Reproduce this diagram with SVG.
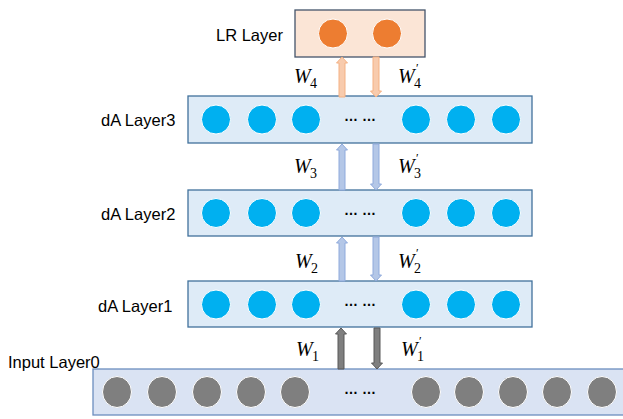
<svg xmlns="http://www.w3.org/2000/svg" width="623" height="419" viewBox="0 0 623 419">
<style>
.lbl{font-family:"Liberation Sans",Arial,sans-serif;font-size:16.5px;fill:#000}
.w{font-family:"Liberation Serif","Times New Roman",serif;font-style:italic;font-size:20px;fill:#000}
.sub{font-family:"Liberation Serif","Times New Roman",serif;font-size:14px;fill:#000}
.pr{font-family:"Liberation Serif","Times New Roman",serif;font-size:12px;fill:#000}
.da{fill:#DEEBF7;stroke:#41719C;stroke-width:1.3}
.lr{fill:#FBE5D6;stroke:#44546A;stroke-width:1.3}
.inp{fill:#DAE3F3;stroke:#6C8EBF;stroke-width:1.3}
.bc{fill:#00B0F0;stroke:#fff;stroke-width:1}
.oc{fill:#ED7D31;stroke:#fff;stroke-width:1}
.gc{fill:#7F7F7F;stroke:#fff;stroke-width:1}
.dots{font-family:"Liberation Sans",Arial,sans-serif;font-size:14px;font-weight:bold;fill:#000}
.ao{fill:#F8CBAD;stroke:#F4B183;stroke-width:1}
.ab{fill:#B4C7E7;stroke:#8FAADC;stroke-width:1}
.ag{fill:#7F7F7F;stroke:#595959;stroke-width:1}
</style>
<g id="lr-layer">
<rect class="lr" x="295" y="10" width="130" height="47"/>
<circle class="oc" cx="333" cy="33.5" r="14.5"/>
<circle class="oc" cx="387" cy="33.5" r="14.5"/>
<text class="lbl" x="216" y="41">LR Layer</text>
</g>
<g id="da-layer3">
<rect class="da" x="188" y="96" width="344" height="47"/>
<circle class="bc" cx="216" cy="119.5" r="14.5"/>
<circle class="bc" cx="262" cy="119.5" r="14.5"/>
<circle class="bc" cx="306" cy="119.5" r="14.5"/>
<circle class="bc" cx="416" cy="119.5" r="14.5"/>
<circle class="bc" cx="461" cy="119.5" r="14.5"/>
<circle class="bc" cx="506" cy="119.5" r="14.5"/>
<text class="dots" x="360" y="121" text-anchor="middle">… …</text>
<text class="lbl" x="101" y="126">dA Layer3</text>
</g>
<g id="da-layer2">
<rect class="da" x="188" y="190" width="344" height="46"/>
<circle class="bc" cx="216" cy="213" r="14.5"/>
<circle class="bc" cx="262" cy="213" r="14.5"/>
<circle class="bc" cx="306" cy="213" r="14.5"/>
<circle class="bc" cx="416" cy="213" r="14.5"/>
<circle class="bc" cx="461" cy="213" r="14.5"/>
<circle class="bc" cx="506" cy="213" r="14.5"/>
<text class="dots" x="360" y="215" text-anchor="middle">… …</text>
<text class="lbl" x="101" y="220">dA Layer2</text>
</g>
<g id="da-layer1">
<rect class="da" x="188" y="281" width="344" height="46"/>
<circle class="bc" cx="216" cy="304.5" r="14.5"/>
<circle class="bc" cx="262" cy="304.5" r="14.5"/>
<circle class="bc" cx="306" cy="304.5" r="14.5"/>
<circle class="bc" cx="416" cy="304.5" r="14.5"/>
<circle class="bc" cx="461" cy="304.5" r="14.5"/>
<circle class="bc" cx="506" cy="304.5" r="14.5"/>
<text class="dots" x="360" y="306" text-anchor="middle">… …</text>
<text class="lbl" x="98" y="312">dA Layer1</text>
</g>
<g id="input-layer0">
<rect class="inp" x="93" y="369" width="540" height="46"/>
<ellipse class="gc" cx="117" cy="392" rx="14.5" ry="15.5"/>
<ellipse class="gc" cx="162" cy="392" rx="14.5" ry="15.5"/>
<ellipse class="gc" cx="207" cy="392" rx="14.5" ry="15.5"/>
<ellipse class="gc" cx="251" cy="392" rx="14.5" ry="15.5"/>
<ellipse class="gc" cx="295" cy="392" rx="14.5" ry="15.5"/>
<ellipse class="gc" cx="426" cy="392" rx="14.5" ry="15.5"/>
<ellipse class="gc" cx="469" cy="392" rx="14.5" ry="15.5"/>
<ellipse class="gc" cx="513" cy="392" rx="14.5" ry="15.5"/>
<ellipse class="gc" cx="557" cy="392" rx="14.5" ry="15.5"/>
<ellipse class="gc" cx="602" cy="392" rx="14.5" ry="15.5"/>
<text class="dots" x="360" y="394" text-anchor="middle">… …</text>
<text class="lbl" x="8" y="368">Input Layer0</text>
</g>
<g id="connectors">
<path class="ao" d="M339,97 L339,63 L336.5,63 L342,57 L347.5,63 L345,63 L345,97 Z"/>
<path class="ao" d="M373,57 L373,91 L370.5,91 L376,97 L381.5,91 L379,91 L379,57 Z"/>
<path class="ab" d="M339,190 L339,150 L336.5,150 L342,144 L347.5,150 L345,150 L345,190 Z"/>
<path class="ab" d="M373,144 L373,184 L370.5,184 L376,190 L381.5,184 L379,184 L379,144 Z"/>
<path class="ab" d="M339,281 L339,243 L336.5,243 L342,237 L347.5,243 L345,243 L345,281 Z"/>
<path class="ab" d="M373,237 L373,275 L370.5,275 L376,281 L381.5,275 L379,275 L379,237 Z"/>
<path class="ag" d="M338,369 L338,334 L335.5,334 L341,328 L346.5,334 L344,334 L344,369 Z"/>
<path class="ag" d="M374,328 L374,363 L371.5,363 L377,369 L382.5,363 L380,363 L380,328 Z"/>
</g>
<g id="weights">
<text class="w" x="294" y="83">W</text><text class="sub" x="310" y="88">4</text>
<text class="w" x="398" y="83">W</text><text class="pr" x="416" y="72">′</text><text class="sub" x="414" y="88">4</text>
<text class="w" x="294" y="173">W</text><text class="sub" x="310" y="178">3</text>
<text class="w" x="398" y="173">W</text><text class="pr" x="416" y="162">′</text><text class="sub" x="414" y="178">3</text>
<text class="w" x="295" y="268">W</text><text class="sub" x="311" y="273">2</text>
<text class="w" x="398" y="268">W</text><text class="pr" x="416" y="257">′</text><text class="sub" x="414" y="273">2</text>
<text class="w" x="296" y="356">W</text><text class="sub" x="312" y="361">1</text>
<text class="w" x="401" y="356">W</text><text class="pr" x="419" y="345">′</text><text class="sub" x="417" y="361">1</text>
</g>
</svg>
